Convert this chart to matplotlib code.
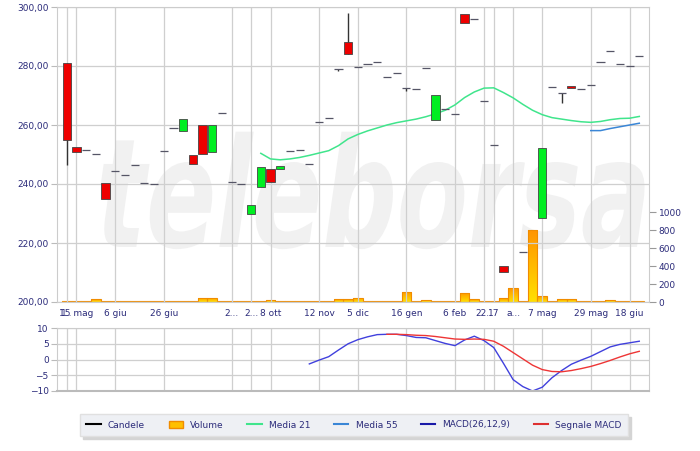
import numpy as np
import matplotlib
matplotlib.use('Agg')
import matplotlib.pyplot as plt
from matplotlib.lines import Line2D
from matplotlib.patches import Patch, PathPatch
from matplotlib.colors import LinearSegmentedColormap
from matplotlib.ticker import FuncFormatter
from matplotlib.textpath import TextPath
from matplotlib.font_manager import FontProperties
from matplotlib.transforms import Affine2D, IdentityTransform

nan = np.nan

# candles (one slot per session)
opens = [280.9, 252.5, 251.5, 250.3, 240.3, 244.5, 243.0, 246.5, 240.7, 240.1,
         251.3, 258.9, 258.0, 250.0, 260.0, 251.0, 264.2, 240.6, 240.0, 229.8,
         238.9, 245.0, 245.0, 251.3, 251.5, 246.8, 261.0, 262.3, 279.0, 288.0,
         279.6, 280.6, 281.2, 276.2, 277.7, 272.4, 272.1, 279.3, 261.7, 265.3,
         263.6, 297.6, 295.8, 268.0, 253.1, 212.3, nan, 216.8, nan, 228.6,
         273.0, 270.7, 273.3, 272.1, 273.6, 281.2, 285.2, 280.6, 280.0, 283.4]
closes = [254.9, 250.8, 251.5, 250.3, 234.9, 244.5, 243.0, 246.5, 240.3, 240.1,
          251.3, 258.9, 262.0, 246.8, 250.2, 260.0, 264.2, 240.6, 240.0, 232.9,
          245.7, 240.6, 246.2, 251.3, 251.5, 246.8, 261.0, 262.3, 279.0, 284.1,
          279.6, 280.6, 281.2, 276.2, 277.7, 272.4, 272.1, 279.3, 270.2, 265.3,
          263.6, 294.7, 295.8, 268.0, 253.1, 210.3, nan, 216.8, nan, 252.2,
          273.0, 270.7, 272.4, 272.1, 273.6, 281.2, 285.2, 280.6, 280.0, 283.4]
highs = [280.9, 252.5, 251.5, 250.3, 240.3, 244.5, 243.0, 246.5, 240.7, 240.1,
         251.3, 258.9, 262.0, 250.0, 260.0, 260.0, 264.2, 240.6, 240.0, 232.9,
         245.7, 245.0, 246.2, 251.3, 251.5, 246.8, 261.0, 262.3, 279.0, 298.0,
         279.6, 280.6, 281.2, 276.2, 277.7, 272.4, 272.1, 279.3, 270.2, 265.3,
         263.6, 297.6, 295.8, 268.0, 253.1, 212.3, nan, 216.8, nan, 252.2,
         273.0, 270.7, 273.3, 272.1, 273.6, 281.2, 285.2, 280.6, 280.0, 283.4]
lows = [246.4, 250.8, 251.5, 250.3, 234.9, 244.5, 243.0, 246.5, 240.3, 240.1,
        251.3, 258.9, 258.0, 246.8, 250.2, 251.0, 264.2, 240.6, 240.0, 229.8,
        238.9, 240.6, 245.0, 251.3, 251.5, 246.8, 261.0, 262.3, 278.2, 284.1,
        279.6, 280.6, 281.2, 276.2, 277.7, 271.6, 272.1, 279.3, 261.7, 265.3,
        263.6, 294.7, 295.8, 268.0, 253.1, 210.3, nan, 216.8, nan, 228.6,
        273.0, 267.6, 272.4, 272.1, 273.6, 281.2, 285.2, 280.6, 280.0, 283.4]

volume = [15, 10, 10, 30, 10, 10, 10, 10, 10, 10,
          10, 10, 10, 10, 50, 50, 10, 10, 10, 10,
          10, 25, 10, 10, 10, 10, 10, 10, 30, 30,
          45, 10, 10, 10, 10, 115, 10, 25, 10, 10,
          10, 105, 30, 10, 10, 40, 155, 10, 800, 70,
          10, 35, 35, 10, 10, 10, 25, 10, 10, 10]

media21 = [250.4, 248.5, 248.2, 248.5, 249.0, 249.7, 250.5, 251.3, 253.0, 255.3,
           256.8, 258.0, 259.0, 260.0, 260.8, 261.4, 262.0, 262.8, 263.8, 265.0,
           266.8, 269.3, 271.2, 272.5, 272.6, 271.0, 269.2, 267.0, 265.0, 263.5,
           262.5, 262.0, 261.5, 261.1, 260.9, 261.2, 261.8, 262.2, 262.3, 262.9]
media55 = [258.1, 258.1, 258.8, 259.4, 260.0, 260.6]
macd = [-1.4, -0.2, 0.9, 3.0, 5.0, 6.3, 7.2, 7.9, 8.0, 8.0,
        7.6, 7.0, 6.9, 6.0, 5.1, 4.4, 6.2, 7.4, 6.0, 3.8,
        -1.2, -6.4, -8.6, -10.0, -8.8, -5.8, -3.5, -1.5, -0.2, 1.0,
        2.5, 4.0, 4.8, 5.3, 5.8]
signal = [8.0, 8.0, 7.9, 7.7, 7.6, 7.3, 6.9, 6.5, 6.4, 6.5,
          6.4, 5.8, 4.2, 2.2, 0.2, -1.8, -3.2, -3.8, -3.9, -3.5,
          -2.9, -2.2, -1.3, -0.3, 0.8, 1.8, 2.6]

tick_pos = [0, 1, 5, 10, 17, 19, 21, 26, 30, 35, 40, 43, 44, 46, 49, 54, 58]
tick_labels = ['1..', '15 mag', '6 giu', '26 giu', '2...', '2...', '8 ott', '12 nov',
               '5 dic', '16 gen', '6 feb', '22..', '17', 'a...', '7 mag', '29 mag', '18 giu']

navy = '#2b2b7a'
grid = '#cfcfcf'
n = len(opens)
x = np.arange(n)

fig = plt.figure(figsize=(7, 4.51), dpi=100)
W, H = 700, 451
ax = fig.add_axes([57 / W, 1 - 302 / H, 592 / W, 295 / H])
axm = fig.add_axes([57 / W, 1 - 391 / H, 592 / W, 63 / H])

# volume on twin axis
axv = ax.twinx()

# watermark, stretched into the box it takes in the reference (pixels)
tp = TextPath((0, 0), 'teleborsa', size=1, prop=FontProperties(family='DejaVu Sans', weight='bold'))
ext = tp.get_extents()
sx = 545 / ext.width
sy = 85 / 0.56
wm_tr = (Affine2D().translate(-ext.x0, 0).scale(sx, sy).skew_deg(8, 0)
         .translate(92, H - 247) + IdentityTransform())
axv.add_patch(PathPatch(tp, transform=wm_tr, facecolor='#f1f1f1', edgecolor='none',
                        zorder=0.1, clip_on=False))

cmap = LinearSegmentedColormap.from_list('vol', ['#ffe000', '#ff9400'])
grad = np.linspace(0, 1, 64).reshape(-1, 1)
bars = axv.bar(x, volume, width=1.0, facecolor='none', edgecolor='#f08c00', linewidth=0.8, zorder=3)
for b in bars:
    x0, w, h = b.get_x(), b.get_width(), b.get_height()
    im = axv.imshow(grad, cmap=cmap, origin='lower', aspect='auto',
                    extent=[x0, x0 + w, 0, h], zorder=2)
    im.set_clip_path(b)
axv.set_xlim(-1, 60)
axv.set_ylim(0, 3289)
axv.set_yticks([0, 200, 400, 600, 800, 1000])
axv.tick_params(axis='y', length=5, color='#999999', labelsize=6.5, labelcolor=navy, pad=2)
for s in axv.spines.values():
    s.set_visible(False)
axv.patch.set_visible(False)

# price axis on top of volume
ax.set_zorder(axv.get_zorder() + 1)
ax.patch.set_visible(False)
fig.patch.set_facecolor('white')

for i in range(n):
    o, c, hi, lo = opens[i], closes[i], highs[i], lows[i]
    if np.isnan(o):
        continue
    if hi > max(o, c) or lo < min(o, c):
        ax.vlines(i, lo, hi, color='#333333', linewidth=1.0, zorder=4)
    if abs(c - o) < 0.6:
        ax.hlines((o + c) / 2, i - 0.42, i + 0.42, color='#556', linewidth=0.9, zorder=5)
    else:
        col = '#00ee22' if c > o else '#ee0000'
        ax.bar(i, c - o, bottom=o, width=0.85, color=col, edgecolor='#444444',
               linewidth=0.6, zorder=5)

ax.plot(np.arange(20, 20 + len(media21)), media21, color='#40e58c', linewidth=1.1, zorder=4)
ax.plot(np.arange(54, 54 + len(media55)), media55, color='#3a86d6', linewidth=1.1, zorder=4)

ax.set_xlim(-1, 60)
ax.set_ylim(200, 300)
ax.set_yticks([200, 220, 240, 260, 280, 300])
ax.yaxis.set_major_formatter(FuncFormatter(lambda v, p: f'{v:.2f}'.replace('.', ',')))
ax.set_xticks(tick_pos)
ax.set_xticklabels(tick_labels)
ax.grid(True, color=grid, linewidth=0.9, zorder=0.5)
ax.tick_params(axis='y', length=4, color='#bbbbbb', labelsize=6.5, labelcolor=navy, pad=2)
ax.tick_params(axis='x', length=0, labelsize=6.5, labelcolor=navy, pad=5)
for s in ax.spines.values():
    s.set_color('#cccccc')

# MACD panel
axm.plot(np.arange(25, 25 + len(macd)), macd, color='#4040dd', linewidth=1.0)
axm.plot(np.arange(33, 33 + len(signal)), signal, color='#ee3535', linewidth=1.0)
axm.set_xlim(-1, 60)
axm.set_ylim(-10, 10)
axm.set_yticks([10, 5, 0, -5, -10])
axm.set_xticks(tick_pos)
axm.set_xticklabels([])
axm.grid(True, color=grid, linewidth=0.9)
axm.set_axisbelow(True)
axm.tick_params(axis='y', length=4, color='#bbbbbb', labelsize=6.5, labelcolor=navy, pad=2)
axm.tick_params(axis='x', length=0)
for s in axm.spines.values():
    s.set_color('#cccccc')
axm.spines['bottom'].set_color('#bbbbbb')
axm.spines['bottom'].set_linewidth(1.5)

handles = [Line2D([], [], color='black', linewidth=1.5),
           Patch(facecolor='#ffc000', edgecolor='#f08c00'),
           Line2D([], [], color='#40e58c', linewidth=1.5),
           Line2D([], [], color='#3a86d6', linewidth=1.5),
           Line2D([], [], color='#1a1aa8', linewidth=1.5),
           Line2D([], [], color='#dd3030', linewidth=1.5)]
names = ['Candele', 'Volume', 'Media 21', 'Media 55', 'MACD(26,12,9)', 'Segnale MACD']
leg = fig.legend(handles, names, loc='center', bbox_to_anchor=(354 / W, 1 - 425 / H),
                 ncol=6, fontsize=6.5, frameon=True, fancybox=False,
                 shadow={'color': '#d4d4d4', 'alpha': 1.0},
                 handlelength=1.6, handleheight=0.9, columnspacing=2.6, handletextpad=0.8,
                 borderpad=0.7)
leg.get_frame().set_facecolor('#eef0f4')
leg.get_frame().set_edgecolor('#e0e0e0')
for t in leg.get_texts():
    t.set_color(navy)

plt.savefig('out.png', dpi=100)
